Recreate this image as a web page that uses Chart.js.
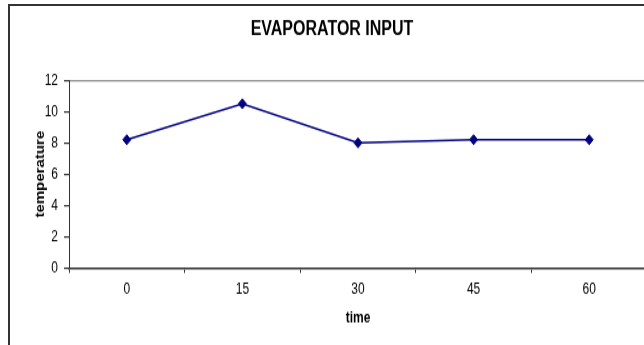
<!DOCTYPE html>
<html>
<head>
<meta charset="utf-8">
<title>EVAPORATOR INPUT</title>
<script src="https://cdn.jsdelivr.net/npm/chart.js@4.4.1/dist/chart.umd.min.js"></script>
<style>
  html, body { margin: 0; padding: 0; background: #fff; overflow: hidden; }
  body { width: 644px; height: 345px; position: relative; }
  /* outer chart frame, only its top and left edges fall inside the window */
  #frame {
    position: absolute; left: 8px; top: 4px; width: 700px; height: 400px;
    border-left: 2px solid #333; border-top: 2px solid #333;
  }
  /* the chart is laid out flat and stretched vertically */
  #wrap {
    position: absolute; left: 0; top: 0; width: 664px; height: 276px;
    transform: scaleY(1.25); transform-origin: 0 0;
  }
</style>
</head>
<body>
<div id="frame"></div>
<div id="wrap"><canvas id="chartCanvasLine" width="664" height="276"></canvas></div>
<script>
const times = ["0", "15", "30", "45", "60"];
const temperature = [8.2, 10.5, 8.0, 8.2, 8.2];
const yTicks = { min: 0, max: 12, step: 2 };

const chartLine = document.getElementById("chartCanvasLine");
const axisDark = "#333333";

Chart.defaults.font.family = "Arial, 'Liberation Sans', sans-serif";
Chart.defaults.color = "#000";

new Chart(chartLine, {
  type: "line",
  data: {
    labels: times,
    datasets: [{
      label: "temperature",
      data: temperature,
      borderColor: "#000080",
      backgroundColor: "#000080",
      borderWidth: 1.5,
      pointStyle: "rectRot",
      pointRadius: 4,
      pointBorderWidth: 1,
      tension: 0
    }]
  },
  options: {
    responsive: false,
    animation: false,
    layout: { padding: { left: 17, right: 17, top: 0, bottom: 0 } },
    plugins: {
      legend: { display: false },
      tooltip: { enabled: false },
      title: {
        display: true,
        text: "EVAPORATOR INPUT",
        font: { size: 16, weight: "bold" },
        color: "#000",
        padding: { top: 14, bottom: 31 }
      }
    },
    scales: {
      x: {
        offset: true,
        grid: {
          offset: true,
          drawOnChartArea: false,
          tickLength: 4,
          tickColor: axisDark,
          tickWidth: 1
        },
        border: { display: true, color: axisDark, width: 1.6 },
        ticks: { font: { size: 12 }, padding: 6.4, maxRotation: 0 },
        title: {
          display: true,
          text: "time",
          font: { size: 12, weight: "bold" },
          padding: { top: 0, bottom: 14.4 }
        },
        afterFit: scale => { scale.height = 61.6; }
      },
      y: {
        min: yTicks.min,
        max: yTicks.max,
        ticks: { stepSize: yTicks.step, font: { size: 12 }, padding: 6 },
        grid: {
          color: ctx => ctx.tick && ctx.tick.value === yTicks.max ? "#8c8c8c" : "rgba(0,0,0,0)",
          lineWidth: 1.2,
          tickLength: 5,
          tickColor: axisDark
        },
        border: { display: true, color: axisDark, width: 1 },
        title: {
          display: true,
          text: "temperature",
          font: { size: 12, weight: "bold" },
          padding: { top: 16, bottom: 0 }
        },
        afterFit: scale => { scale.width = 52; }
      }
    }
  }
});
</script>
</body>
</html>
